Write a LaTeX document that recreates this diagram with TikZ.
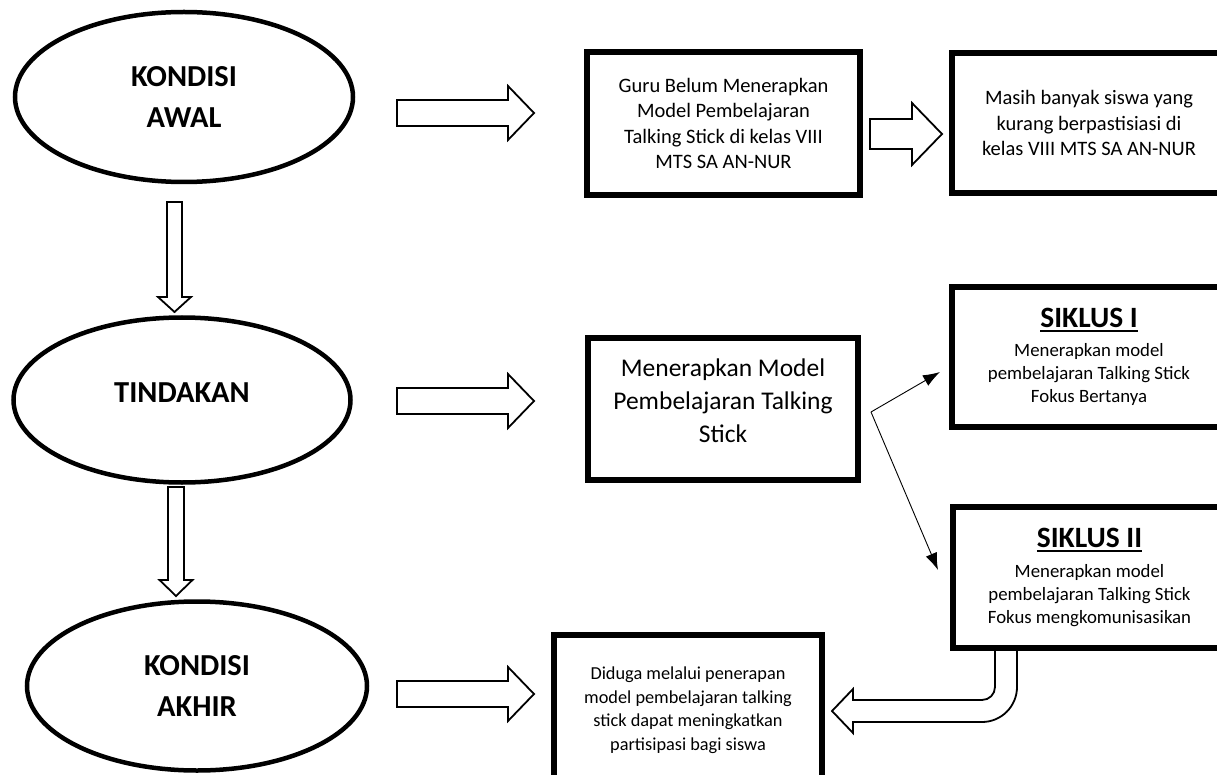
\documentclass[tikz,border=0pt]{standalone}
\usepackage{fontspec}
\setmainfont{Carlito}
\usetikzlibrary{shapes.geometric}
\usetikzlibrary{arrows.meta}

\newcommand{\garisbawah}[1]{\setbox0=\hbox{#1}\leavevmode\rlap{\rule[-4.5pt]{\wd0}{2.4pt}}\box0}

\tikzset{
	kondisi/.style={ellipse,draw,line width=4.5pt,inner sep=0pt,align=center,font=\fontsize{30.5}{41}\selectfont\bfseries},
	kotak/.style={rectangle,draw,line width=5.5pt,inner sep=0pt,align=center},
	panah/.style={draw,line width=1.8pt,fill=white,line join=miter},
	garis/.style={-{Latex[length=17pt,width=12pt]},line width=0.9pt}
}

\begin{document}
\begin{tikzpicture}[x=1pt,y=-1pt]
	\useasboundingbox (0,0) rectangle (1217,775);
	\clip (0,0) rectangle (1217,775);

	% panah tebal
	\draw[panah,shift={(174.5,202)}] (-7.5,0) -- (-7.5,95) -- (-16.5,95) -- (0,110) -- (16.5,95) -- (7.5,95) -- (7.5,0) -- cycle;
	\draw[panah,shift={(176,487)}] (-8,0) -- (-8,93) -- (-16.5,93) -- (0,109) -- (16.5,93) -- (8,93) -- (8,0) -- cycle;
	\foreach \yy in {113,401,694}
		\draw[panah,shift={(397,\yy)}] (0,-13) -- (111,-13) -- (111,-27) -- (137,0) -- (111,27) -- (111,13) -- (0,13) -- cycle;
	\draw[panah,shift={(870,134)}] (0,-15) -- (42,-15) -- (42,-31) -- (72,0) -- (42,31) -- (42,15) -- (0,15) -- cycle;
	\draw[panah] (995,648) -- (995,687) .. controls (995,694.2) and (989.2,700) .. (982,700) -- (853,700) -- (853,689) -- (832,711) -- (853,733) -- (853,722) -- (982,722) .. controls (1001.3,722) and (1017,706.3) .. (1017,687) -- (1017,648) -- cycle;

	\node[kondisi,minimum width=338pt,minimum height=170pt](awal) at (184,97) {KONDISI\\AWAL};
	\node[kondisi,minimum width=337pt,minimum height=165pt,text depth=14pt](tindakan) at (182,400) {TINDAKAN};
	\node[kondisi,minimum width=340pt,minimum height=169pt](akhir) at (197,686) {KONDISI\\AKHIR};

	\node[kotak,minimum width=273pt,minimum height=143pt,font=\fontsize{20.5}{25.5}\selectfont](guru) at (723.5,123.5) {Guru Belum Menerapkan\\Model Pembelajaran\\Talking Stick di kelas VIII\\MTS SA AN-NUR};
	\node[kotak,minimum width=274pt,minimum height=140pt,font=\fontsize{20.5}{25.5}\selectfont](masih) at (1089,123) {Masih banyak siswa yang\\kurang berpastisiasi di\\kelas VIII MTS SA AN-NUR};
	\node[kotak,minimum width=270pt,minimum height=142pt](terapkan) at (723,409) {};
	\node[align=center,inner sep=0pt,font=\fontsize{25.5}{33}\selectfont](terapkanteks) at (723,401) {Menerapkan Model\\Pembelajaran Talking\\Stick};
	\node[kotak,minimum width=274pt,minimum height=140pt,font=\fontsize{18.8}{23}\selectfont](siklusA) at (1089,357) {{\fontsize{29.5}{29.5}\selectfont\bfseries\garisbawah{SIKLUS I}}\\[6.5pt]Menerapkan model\\pembelajaran Talking Stick\\Fokus Bertanya};
	\node[kotak,minimum width=273pt,minimum height=141pt,font=\fontsize{18.8}{23}\selectfont](siklusB) at (1089.5,577.5) {{\fontsize{29.5}{29.5}\selectfont\bfseries\garisbawah{SIKLUS II}}\\[6.5pt]Menerapkan model\\pembelajaran Talking Stick\\Fokus mengkomunisasikan};
	\node[kotak,minimum width=268pt,minimum height=150pt,font=\fontsize{18.3}{23.5}\selectfont](duga) at (688,710) {Diduga melalui penerapan\\model pembelajaran talking\\stick dapat meningkatkan\\partisipasi bagi siswa};

	% panah tipis
	\coordinate (cabang) at (871,412);
	\coordinate (ujungA) at (940,372);
	\coordinate (ujungB) at (938,570);
	\draw[garis] (cabang) -- (ujungA);
	\draw[garis] (cabang) -- (ujungB);
\end{tikzpicture}
\end{document}
